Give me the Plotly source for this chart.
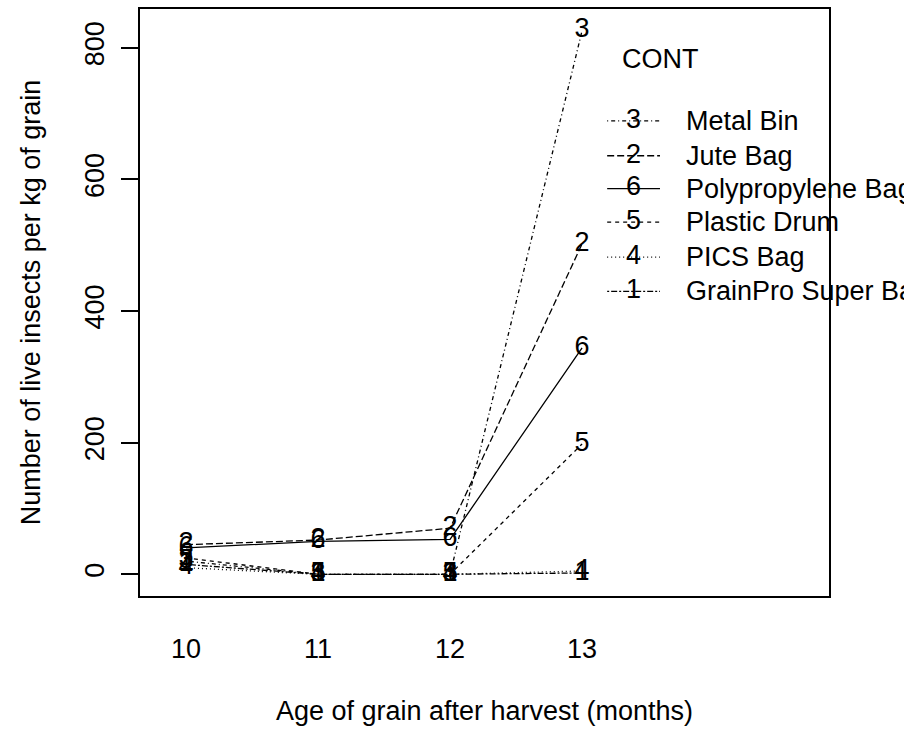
import plotly.graph_objects as go

months = [10, 11, 12, 13]
series_names = ["Metal Bin", "Jute Bag", "Polypropylene Bag", "Plastic Drum", "PICS Bag", "GrainPro Super Bag"]
series_codes = ["3", "2", "6", "5", "4", "1"]
metal_bin = [20, 0, 0, 826]
jute_bag = [45, 52, 70, 502]
polypropylene_bag = [40, 50, 53, 344]
plastic_drum = [25, 0, 0, 198]
pics_bag = [10, 0, 0, 5]
grainpro_bag = [15, 0, 0, 2]
series_values = [metal_bin, jute_bag, polypropylene_bag, plastic_drum, pics_bag, grainpro_bag]
y_ticks = [0, 200, 400, 600, 800]

# R-style line types
dashes = ["1px,3px,4px,3px", "7px,3px", "solid", "4px,4px", "1px,3px", "2px,2px,6px,2px"]

FONT = "Liberation Sans, Arial, sans-serif"
FS = 27

fig = go.Figure()
for name, code, vals, dash in zip(series_names, series_codes, series_values, dashes):
    fig.add_trace(go.Scatter(
        x=months, y=vals, mode="lines+text", text=[code] * len(months),
        textposition="middle center", textfont=dict(family=FONT, size=FS, color="black"),
        line=dict(color="black", width=1.3, dash=dash), showlegend=False, name=name,
        cliponaxis=False,
    ))

# Legend drawn inside the plot, as in R's interaction.plot
leg_x0, leg_xm, leg_x1, leg_tx = 13.19, 13.39, 13.59, 13.77
leg_y = [689, 636, 586, 535, 482, 430]
for name, code, dash, ly in zip(series_names, series_codes, dashes, leg_y):
    fig.add_trace(go.Scatter(
        x=[leg_x0, leg_xm, leg_x1], y=[ly, ly, ly], mode="lines+text",
        text=["", code, ""], textposition="middle center",
        textfont=dict(family=FONT, size=FS, color="black"),
        line=dict(color="black", width=1.3, dash=dash), showlegend=False, cliponaxis=False,
    ))
    fig.add_annotation(x=leg_tx, y=ly, text=name, showarrow=False, xanchor="left",
                       yanchor="middle", font=dict(family=FONT, size=FS, color="black"))
fig.add_annotation(x=13.29, y=783, text="CONT", showarrow=False, xanchor="left",
                   yanchor="middle", font=dict(family=FONT, size=FS, color="black"))

fig.update_layout(
    width=904, height=732, paper_bgcolor="white", plot_bgcolor="white",
    margin=dict(l=140, r=75, t=7, b=136),
    font=dict(family=FONT, size=FS, color="black"),
)
fig.update_xaxes(
    range=[9.652, 14.87], tickvals=months, ticktext=[str(m) for m in months],
    showline=True, mirror=True, linecolor="black", linewidth=1.5,
    ticks="", showgrid=False, zeroline=False, ticklabelstandoff=28,
    tickfont=dict(family=FONT, size=FS),
    title=dict(text="Age of grain after harvest (months)", font=dict(family=FONT, size=FS), standoff=38),
)
fig.update_yaxes(
    range=[-33, 859], tickvals=y_ticks, tickangle=-90,
    showline=True, mirror=True, linecolor="black", linewidth=1.5,
    ticks="outside", ticklen=17, tickwidth=1.5, tickcolor="black",
    showgrid=False, zeroline=False, ticklabelstandoff=6,
    tickfont=dict(family=FONT, size=FS),
    title=dict(text="Number of live insects per kg of grain", font=dict(family=FONT, size=FS), standoff=32),
)

fig.write_html("out.html")
